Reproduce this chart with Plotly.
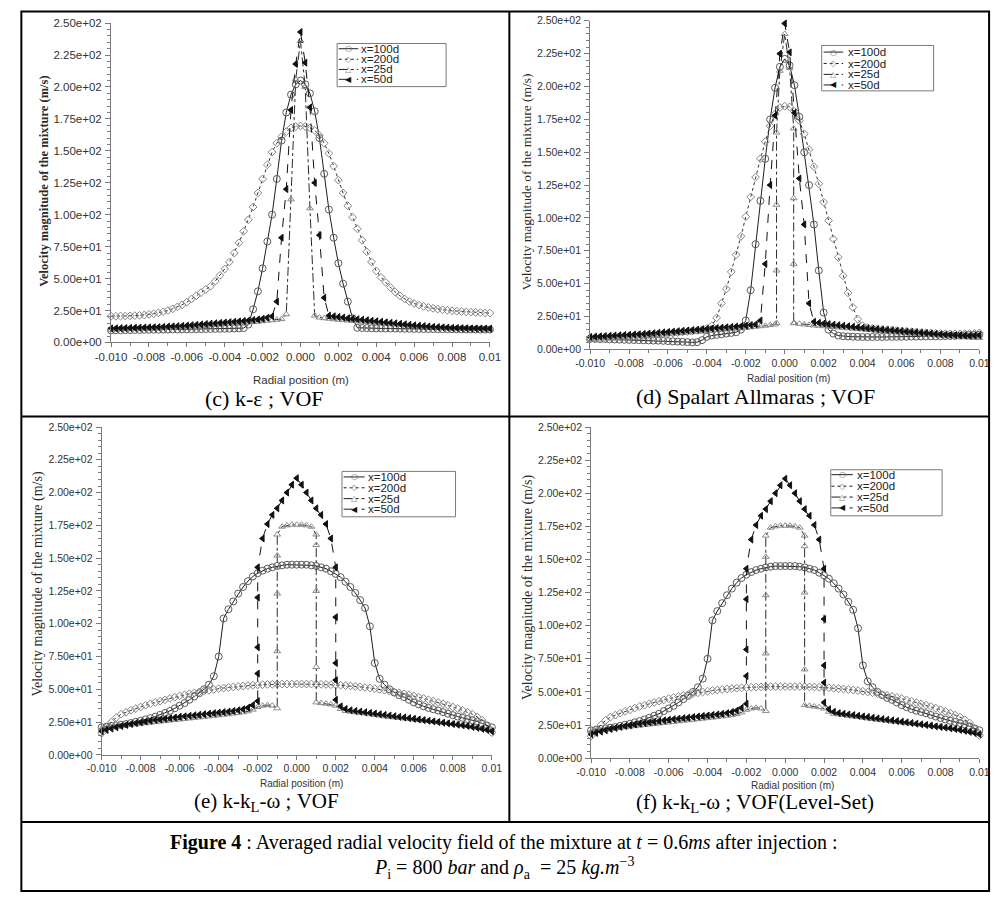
import plotly.graph_objects as go

W, H = 1003, 899

# ---------------- data (radial position in mm, velocity in m/s) ----------------
GRID_MM = [-10.0, -9.75, -9.5, -9.25, -9.0, -8.75, -8.5, -8.25, -8.0, -7.75,
           -7.5, -7.25, -7.0, -6.75, -6.5, -6.25, -6.0, -5.75, -5.5, -5.25,
           -5.0, -4.75, -4.5, -4.25, -4.0, -3.75, -3.5, -3.25, -3.0, -2.75,
           -2.5, -2.25, -2.0, -1.75, -1.5, -1.25, -1.0, -0.75, -0.5, -0.25,
           0.0, 0.25, 0.5, 0.75, 1.0, 1.25, 1.5, 1.75, 2.0, 2.25,
           2.5, 2.75, 3.0, 3.25, 3.5, 3.75, 4.0, 4.25, 4.5, 4.75,
           5.0, 5.25, 5.5, 5.75, 6.0, 6.25, 6.5, 6.75, 7.0, 7.25,
           7.5, 7.75, 8.0, 8.25, 8.5, 8.75, 9.0, 9.25, 9.5, 9.75, 10.0]

SERIES_NAMES = ["x=100d", "x=200d", "x=25d", "x=50d"]

XTICK_VALS = [-0.010, -0.008, -0.006, -0.004, -0.002, 0.0, 0.002, 0.004, 0.006, 0.008, 0.010]
XTICK_TEXT = ["-0.010", "-0.008", "-0.006", "-0.004", "-0.002", "0.000",
              "0.002", "0.004", "0.006", "0.008", "0.01"]
YTICK_VALS = [0, 25, 50, 75, 100, 125, 150, 175, 200, 225, 250]
YTICK_TEXT = ["0.00e+00", "2.50e+01", "5.00e+01", "7.50e+01", "1.00e+02", "1.25e+02",
              "1.50e+02", "1.75e+02", "2.00e+02", "2.25e+02", "2.50e+02"]

# (c) k-epsilon ; VOF
KE_100D = [9.5, 9.6, 9.6, 9.7, 9.7, 9.8, 9.8, 9.9, 9.9, 10.0, 10.0, 10.1, 10.1, 10.2, 10.2,
           10.3, 10.3, 10.4, 10.4, 10.5, 10.5, 10.6, 10.6, 10.7, 10.7, 10.8, 10.9, 11.0, 11.2,
           14, 26, 40, 58, 79, 100, 128, 158, 180, 194, 202, 205,
           202, 195, 181, 160, 132, 104, 82, 62, 46, 32, 19, 11.5,
           11.3, 11.2, 11.1, 11.0, 11.0, 10.9, 10.9, 10.8, 10.8, 10.7, 10.7, 10.6, 10.6, 10.5,
           10.5, 10.5, 10.4, 10.4, 10.4, 10.3, 10.3, 10.3, 10.2, 10.2, 10.2, 10.1, 10.1, 10.1]
KE_200D = [20.5, 20.5, 20.6, 20.7, 20.8, 21.0, 21.2, 21.5, 22.0, 22.5,
           23.2, 24.0, 25.0, 26.3, 27.8, 29.5, 31.5, 34, 36.5, 39,
           41.5, 44, 48, 52.5, 57.5, 63, 70, 78, 87, 96,
           106, 117, 128, 139, 149, 156, 161, 165, 168, 169, 169.5,
           169, 168, 166, 162, 156, 148, 138, 127, 117, 107,
           98, 89, 80, 71, 63, 56, 51, 47, 43, 39.5,
           36.5, 34, 32, 30.5, 29.2, 28.2, 27.4, 26.7, 26.1, 25.6,
           25.2, 24.8, 24.5, 24.2, 23.9, 23.7, 23.5, 23.3, 23.1, 23]
KE_25D = [10.0, 10.1, 10.2, 10.3, 10.4, 10.5, 10.6, 10.7, 10.8, 10.9,
          11.0, 11.2, 11.4, 11.6, 11.8, 12.0, 12.2, 12.4, 12.6, 12.8,
          13.0, 13.3, 13.6, 13.9, 14.2, 14.5, 14.8, 15.1, 15.4, 15.7,
          16.0, 16.3, 16.6, 17.0, 17.4, 17.8, 18.3,
          22, 112, 206, 236, 200, 105, 21,
          19.5, 19.0, 18.6, 18.2, 17.8, 17.5, 17.2, 16.9, 16.6, 16.3,
          16.0, 15.7, 15.4, 15.1, 14.8, 14.5, 14.2, 13.9, 13.6, 13.3,
          13.0, 12.7, 12.4, 12.1, 11.8, 11.6, 11.4, 11.2, 11.0, 10.9,
          10.8, 10.7, 10.6, 10.5, 10.5, 10.4, 10.4]
KE_50D = [11.0, 11.1, 11.2, 11.3, 11.4, 11.5, 11.6, 11.7, 11.8, 11.9,
          12.0, 12.2, 12.4, 12.6, 12.8, 13.0, 13.2, 13.5, 13.8, 14.1,
          14.4, 14.7, 15.0, 15.3, 15.6, 15.9, 16.2, 16.5, 16.8, 17.2,
          17.6, 18.0, 18.6, 19.4,
          20.5, 32, 82, 120, 182, 218, 243, 219, 184, 125, 84, 35, 21,
          20.5, 20.0, 19.5, 19.0, 18.6, 18.2, 17.8, 17.4, 17.0, 16.6,
          16.2, 15.8, 15.4, 15.0, 14.6, 14.2, 13.8, 13.4, 13.1, 12.8,
          12.5, 12.2, 12.0, 11.8, 11.6, 11.4, 11.3, 11.2, 11.1, 11.0,
          11.0, 10.9, 10.9, 10.8]

# (d) Spalart Allmaras ; VOF
SA_100D = [8.0, 8.0, 7.8, 7.8, 7.6, 7.5, 7.4, 7.3, 7.2, 7.1,
           7.0, 6.9, 6.8, 6.7, 6.6, 6.5, 6.3, 6.1, 5.9, 5.7,
           5.5, 5.3, 5.5, 7.0, 9.5, 10.5, 11.0, 11.5, 12.0, 12.5,
           13.0, 15.0,
           22, 45, 80, 113, 145, 175, 199, 215, 221, 216, 201, 177, 150, 125, 95, 60, 28,
           15, 12, 10.5, 10.0, 9.8, 9.6, 9.5, 9.4, 9.4, 9.4,
           9.4, 9.4, 9.5, 9.5, 9.5, 9.6, 9.6, 9.7, 9.7, 9.8,
           9.8, 9.9, 9.9, 10.0, 10.1, 10.2, 10.3, 10.5, 10.7, 10.9,
           11.0, 11.2]
SA_200D = [8.5, 8.6, 8.8, 9.0, 9.2, 9.4, 9.6, 9.8, 10.0, 10.2,
           10.4, 10.6, 10.9, 11.2, 11.5, 11.8, 12.1, 12.4, 12.8, 13.2,
           13.6, 14.0, 14.4, 15.0, 16.0,
           18, 24, 35, 46, 59, 72, 86, 101, 116, 131, 145, 158, 170, 179, 184, 185,
           184.5, 181, 174, 164, 152, 139, 126, 112, 98, 84, 70, 56, 43, 32, 23,
           18, 16.5, 16, 15.6, 15.2, 14.9, 14.6, 14.3, 14, 13.7,
           13.4, 13.1, 12.8, 12.6, 12.4, 12.2, 12.0, 11.9, 11.8, 11.8,
           11.8, 11.9, 12.0, 12.2, 12.5]
SA_25D_X = GRID_MM[:39] + [-0.42, -0.42, -0.42, -0.42, -0.25, 0.0, 0.25,
                           0.46, 0.46, 0.46, 0.46] + GRID_MM[42:]
SA_25D = [8.0, 8.2, 8.4, 8.6, 8.8, 9.0, 9.2, 9.4, 9.6, 9.8,
          10.0, 10.2, 10.5, 10.8, 11.0, 11.3, 11.6, 11.9, 12.2, 12.5,
          12.8, 13.1, 13.4, 13.7, 14.0, 14.3, 14.6, 14.9, 15.2, 15.5,
          15.8, 16.1, 16.4, 16.8, 17.2, 17.6, 18.0, 18.5, 19.0,
          20, 60, 110, 165, 212, 240, 214, 168, 115, 65, 20,
          20.0, 19.5, 19.0, 18.6, 18.2, 17.9, 17.6, 17.3, 17.0, 16.7,
          16.4, 16.1, 15.8, 15.5, 15.2, 14.9, 14.6, 14.3, 14.0, 13.7,
          13.4, 13.1, 12.8, 12.5, 12.2, 11.9, 11.6, 11.3, 11.0, 10.7,
          10.4, 10.1, 9.8, 9.6, 9.4, 9.2, 9.0, 8.8, 8.6]
SA_50D = [9.5, 9.7, 9.9, 10.1, 10.3, 10.5, 10.7, 10.9, 11.1, 11.3,
          11.5, 11.7, 12.0, 12.3, 12.6, 12.9, 13.2, 13.5, 13.8, 14.1,
          14.4, 14.7, 15.0, 15.3, 15.6, 15.9, 16.2, 16.5, 16.8, 17.1,
          17.4, 17.7, 18.0, 18.5, 19.0,
          22, 65, 125, 178, 225, 248, 226, 180, 130, 95, 35, 21,
          20.2, 19.7, 19.2, 18.8, 18.4, 18.0, 17.6, 17.2, 16.8, 16.4,
          16.0, 15.7, 15.4, 15.1, 14.8, 14.5, 14.2, 13.9, 13.6, 13.3,
          13.0, 12.7, 12.4, 12.1, 11.8, 11.5, 11.2, 11.0, 10.8, 10.6,
          10.5, 10.4, 10.5, 10.7]

# (e) k-kL-omega ; VOF   and   (f) k-kL-omega ; VOF(Level-Set)  (same readings)
KKL_100D = [21, 21.5, 22, 22.5, 23, 23.5, 24.3, 25.2, 26, 27,
            28, 29.2, 30.5, 32, 33.5, 35.5, 37.5, 39.5, 42, 44.5,
            47, 50, 53.5, 60,
            75, 104, 111, 117, 123, 128, 132.5, 136, 138.5, 140.5,
            142, 143, 144, 144.5, 145, 145, 145, 145, 145, 144.5,
            144, 143, 142, 140, 138, 135.5, 132, 128, 123.5, 118, 112, 98, 70,
            58, 53.5, 50, 47.5, 45.5, 44, 42, 40, 38.5, 37,
            35.8, 34.8, 33.8, 32.6, 31.4, 30.3, 29.2, 28.2, 27.3, 26.5,
            25.5, 24, 22.5, 21]
KKL_200D = [16.5, 21, 25, 28.5, 31, 32.5, 34, 35.3, 36.5, 37.8,
            39, 40, 41, 42, 43, 44, 45, 45.8, 46.6, 47.3,
            48, 48.7, 49.3, 49.9, 50.5, 51, 51.4, 51.8, 52.2, 52.5,
            52.8, 53.1, 53.3, 53.5, 53.7, 53.8, 53.9, 54, 54, 54, 54,
            54, 54, 54, 53.9, 53.8, 53.7, 53.5, 53.3, 53.1, 52.8,
            52.5, 52.2, 51.8, 51.4, 51, 50.5, 49.9, 49.3, 48.7, 48,
            47.3, 46.6, 45.8, 45, 44, 43, 42, 41, 40, 39,
            37.8, 36.5, 35.3, 34, 32.5, 31, 29, 26.5, 22, 17]
KKL_25D_X = GRID_MM[:36] + [-1.0, -1.0, -1.0, -1.0, -1.0, -0.75, -0.5, -0.25, 0.0,
                            0.25, 0.5, 0.75, 1.0, 1.0, 1.0, 1.0, 1.0] + GRID_MM[45:]
KKL_25D = [20, 20.5, 21, 21.5, 22, 22.5, 23, 23.4, 23.8, 24.2,
           24.6, 25, 25.4, 25.8, 26.2, 26.6, 27, 27.4, 27.8, 28.2,
           28.6, 29, 29.4, 29.8, 30.2, 30.6, 31, 31.5, 32, 32.5,
           33.2, 34.5, 36.5, 37.5, 38, 37.5,
           35.5, 79, 123, 152, 168, 174, 175, 175.5, 175.5, 175.5, 175, 174,
           168, 160, 125, 67, 40,
           39.5, 39, 38.5, 37.5, 35, 33.5, 33, 32.5, 32, 31.5,
           31, 30.5, 30, 29.5, 29, 28.6, 28.2, 27.8, 27.4, 27,
           26.6, 26.2, 25.8, 25.4, 25, 24.6, 24.2, 23.8, 23.3, 22.8,
           22.2, 21.6, 21, 20.3, 19.6, 19]
KKL_50D_X = GRID_MM[:32] + [-2.0, -2.0, -2.0, -2.0, -2.0,
                            -1.75, -1.5, -1.25, -1.0, -0.75, -0.5, -0.25, 0.0,
                            0.25, 0.5, 0.75, 1.0, 1.25, 1.5, 1.75,
                            2.0, 2.0, 2.0, 2.0, 2.0] + GRID_MM[49:]
KKL_50D = [18, 19, 20, 21, 22, 22.8, 23.5, 24.2, 24.8, 25.4,
           26, 26.5, 27, 27.5, 28, 28.5, 29, 29.4, 29.8, 30.2,
           30.6, 31, 31.4, 31.8, 32.2, 32.6, 33, 33.5, 34, 34.8,
           36, 38,
           41, 62, 82, 120, 143,
           165, 176, 183, 188, 194, 200, 206, 211, 206, 200, 194, 188, 183, 176, 165,
           143, 105, 70, 57, 42,
           37, 35, 34, 33.5, 33, 32.5, 32, 31.5, 31, 30.5,
           30, 29.5, 29, 28.5, 28, 27.5, 27, 26.5, 26, 25.5,
           25, 24.5, 24, 23.5, 23, 22.5, 22, 21.3, 20.6, 19.8,
           19, 18]

# ---------------- helpers ----------------
def fx(px):
    return px / W


def fy(py):
    return 1 - py / H


SANS = "Liberation Sans, Arial, sans-serif"
SERIF = "Liberation Serif, Times New Roman, serif"

STYLE = {
    "x=100d": dict(symbol="circle-open", size=7, mcolor="#5a5a5a", lcolor="#1e1e1e", dash="solid", glyph="○"),
    "x=200d": dict(symbol="diamond-open", size=6, mcolor="#858585", lcolor="#333333", dash="dot", glyph="◇"),
    "x=25d": dict(symbol="triangle-up-open", size=6, mcolor="#8c8c8c", lcolor="#2a2a2a", dash="dashdot", glyph="△"),
    "x=50d": dict(symbol="triangle-left", size=6, mcolor="#111111", lcolor="#111111", dash="dash", glyph="◀"),
}

PANELS = [
    dict(xd=(97.7, 487), yd=(17.3, 341),
         series=[(GRID_MM, KE_100D), (GRID_MM, KE_200D), (GRID_MM, KE_25D), (GRID_MM, KE_50D)],
         tickfont=11.5, ytitle=(28, 178, 12.5, True), xtitle=(293, 379, 11.5),
         caption=("(c) k-ε ; VOF", 255, 398, 22),
         legend=dict(box=(330, 38, 442, 81.7), rows=[43.3, 54, 64.3, 74.3], sx=(331.7, 351.7), tx=353)),
    dict(xd=(590, 990), yd=(15, 348),
         series=[(GRID_MM, SA_100D), (GRID_MM, SA_200D), (SA_25D_X, SA_25D), (GRID_MM, SA_50D)],
         tickfont=10.5, ytitle=(525, 178, 13.5, False), xtitle=(794, 378, 10),
         caption=("(d) Spalart Allmaras ; VOF", 760, 396, 22),
         legend=dict(box=(828, 40, 943, 86), rows=[46.7, 58.3, 69.3, 80], sx=(830, 850), tx=852.7)),
    dict(xd=(88, 489), yd=(426.7, 759),
         series=[(GRID_MM, KKL_100D), (GRID_MM, KKL_200D), (KKL_25D_X, KKL_25D), (KKL_50D_X, KKL_50D)],
         tickfont=10.5, ytitle=(23, 586, 14, False), xtitle=(293, 788, 10),
         caption=("(e) k-k<sub>L</sub>-ω ; VOF", 257, 807, 21),
         legend=dict(box=(335, 471.7, 451.7, 517.7), rows=[477.3, 488.3, 499.3, 510], sx=(336.7, 358.3), tx=360)),
    dict(xd=(591, 990), yd=(426.7, 762.3),
         series=[(GRID_MM, KKL_100D), (GRID_MM, KKL_200D), (KKL_25D_X, KKL_25D), (KKL_50D_X, KKL_50D)],
         tickfont=10.5, ytitle=(526, 589, 14, False), xtitle=(798, 790.5, 10),
         caption=("(f) k-k<sub>L</sub>-ω ; VOF(Level-Set)", 759, 808, 21),
         legend=dict(box=(837.3, 470, 951.7, 516.7), rows=[475, 486.7, 497.7, 508.7], sx=(838, 860), tx=861.7)),
]

fig = go.Figure()
shapes = []
annotations = []
layout_axes = {}

for i, p in enumerate(PANELS):
    n = "" if i == 0 else str(i + 1)
    for name, (xs, ys) in zip(SERIES_NAMES, p["series"]):
        st = STYLE[name]
        fig.add_trace(go.Scatter(
            x=[v / 1000.0 for v in xs], y=ys, mode="lines+markers", name=name,
            xaxis="x" + n, yaxis="y" + n, cliponaxis=False, showlegend=False,
            line=dict(color=st["lcolor"], width=1, dash=st["dash"]),
            marker=dict(symbol=st["symbol"], size=st["size"], color=st["mcolor"],
                        line=dict(color=st["mcolor"], width=1)),
        ))
    axcommon = dict(showline=True, linecolor="#7a7a7a", linewidth=1, ticks="outside",
                    ticklen=5, tickcolor="#7a7a7a", tickwidth=1, showgrid=False, zeroline=False,
                    tickfont=dict(family=SANS, size=p["tickfont"], color="#333333"))
    layout_axes["xaxis" + n] = dict(
        axcommon, domain=[fx(p["xd"][0]), fx(p["xd"][1])], range=[-0.01, 0.01],
        anchor="y" + n, tickmode="array", tickvals=XTICK_VALS, ticktext=XTICK_TEXT, tickangle=0,
        ticklabelstandoff=0, ticklen=4,
        minor=dict(ticks="outside", ticklen=3, tick0=-0.01, dtick=0.001, tickcolor="#7a7a7a", showgrid=False))
    layout_axes["yaxis" + n] = dict(
        axcommon, domain=[fy(p["yd"][1]), fy(p["yd"][0])], range=[0, 250],
        anchor="x" + n, tickmode="array", tickvals=YTICK_VALS, ticktext=YTICK_TEXT,
        ticklabelstandoff=1,
        minor=dict(ticks="outside", ticklen=3, tick0=0, dtick=5, tickcolor="#7a7a7a", showgrid=False))

    tx, ty, tsize, tbold = p["ytitle"]
    ttext = "Velocity magnitude of the mixture (m/s)"
    annotations.append(dict(
        text="<b>" + ttext + "</b>" if tbold else ttext, x=fx(tx), y=fy(ty),
        xref="paper", yref="paper", textangle=-90, showarrow=False,
        xanchor="center", yanchor="middle", font=dict(family=SERIF, size=tsize, color="#2a2a2a")))
    xx, xy, xsize = p["xtitle"]
    annotations.append(dict(
        text="Radial position (m)", x=fx(xx), y=fy(xy), xref="paper", yref="paper",
        showarrow=False, xanchor="center", yanchor="middle",
        font=dict(family=SANS, size=xsize, color="#333333")))
    ctext, cx, cy, csize = p["caption"]
    annotations.append(dict(
        text=ctext, x=fx(cx), y=fy(cy), xref="paper", yref="paper", showarrow=False,
        xanchor="center", yanchor="middle", font=dict(family=SERIF, size=csize, color="#000000")))

    lg = p["legend"]
    bx0, by0, bx1, by1 = lg["box"]
    shapes.append(dict(type="rect", xref="paper", yref="paper", x0=fx(bx0), x1=fx(bx1),
                       y0=fy(by1), y1=fy(by0), line=dict(color="#7a7a7a", width=1),
                       fillcolor="white", layer="above"))
    for name, ry in zip(SERIES_NAMES, lg["rows"]):
        st = STYLE[name]
        shapes.append(dict(type="line", xref="paper", yref="paper",
                           x0=fx(lg["sx"][0]), x1=fx(lg["sx"][1]), y0=fy(ry), y1=fy(ry),
                           line=dict(color="#1e1e1e", width=1, dash=st["dash"]), layer="above"))
        annotations.append(dict(
            text=st["glyph"], x=fx((lg["sx"][0] + lg["sx"][1]) / 2), y=fy(ry),
            xref="paper", yref="paper", showarrow=False, xanchor="center", yanchor="middle",
            font=dict(family="DejaVu Sans", size=8, color=st["mcolor"])))
        annotations.append(dict(
            text=name, x=fx(lg["tx"]), y=fy(ry), xref="paper", yref="paper", showarrow=False,
            xanchor="left", yanchor="middle", font=dict(family=SANS, size=11.5, color="#222222")))

# table borders
BL = dict(color="black", width=2)
shapes += [
    dict(type="rect", xref="paper", yref="paper", x0=fx(5.5), x1=fx(1000), y0=fy(897), y1=fy(5.5), line=BL),
    dict(type="line", xref="paper", yref="paper", x0=fx(507), x1=fx(507), y0=fy(827), y1=fy(5.5), line=BL),
    dict(type="line", xref="paper", yref="paper", x0=fx(5.5), x1=fx(1000), y0=fy(416), y1=fy(416), line=BL),
    dict(type="line", xref="paper", yref="paper", x0=fx(5.5), x1=fx(1000), y0=fy(827), y1=fy(827), line=BL),
]

# figure caption
annotations.append(dict(
    text="<b>Figure 4</b> : Averaged radial velocity field of the mixture at "
         "<i>t</i> = 0.6<i>ms</i> after injection :",
    x=fx(501), y=fy(848), xref="paper", yref="paper", showarrow=False,
    xanchor="center", yanchor="middle", font=dict(family=SERIF, size=20, color="black")))
annotations.append(dict(
    text="<i>P</i><sub>i</sub> = 800 <i>bar</i> and <i>ρ</i><sub>a</sub>  = 25 <i>kg.m</i><sup>−3</sup>",
    x=fx(501), y=fy(874), xref="paper", yref="paper", showarrow=False,
    xanchor="center", yanchor="middle", font=dict(family=SERIF, size=20, color="black")))

fig.update_layout(
    width=W, height=H, margin=dict(l=0, r=0, t=0, b=0),
    paper_bgcolor="white", plot_bgcolor="white", showlegend=False,
    shapes=shapes, annotations=annotations, **layout_axes)

fig.write_html("out.html")
